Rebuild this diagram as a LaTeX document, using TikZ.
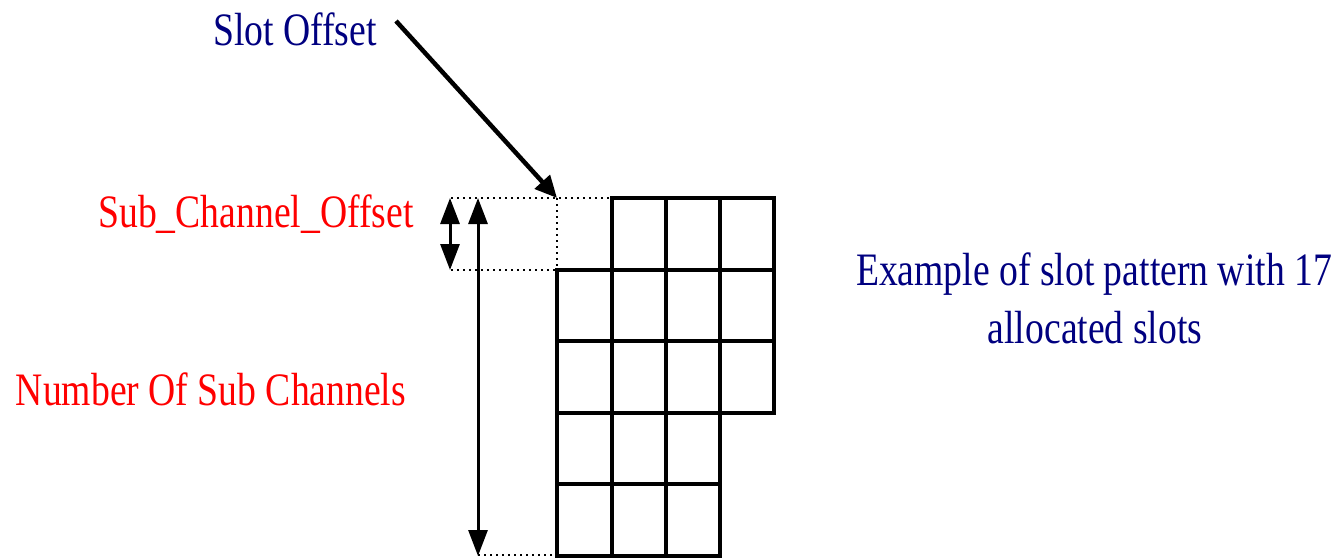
\documentclass[tikz,border=0pt]{standalone}
\usepackage{fontspec}
\setmainfont{Liberation Serif}[FakeStretch=0.81]
\usetikzlibrary{arrows.meta}
\definecolor{navy}{RGB}{0,0,128}
\begin{document}
\begin{tikzpicture}[x=1pt,y=-1pt,
  lbl/.style={anchor=base,inner sep=0pt,font=\fontsize{46.5}{50}\selectfont},
  gridline/.style={line width=3.3pt,line cap=rect},
  dotline/.style={line width=2.6pt,dash pattern=on 2.2pt off 3.8pt},
  dim/.style={line width=3pt,{Triangle[length=26pt,width=19pt]}-{Triangle[length=26pt,width=19pt]}},
  pointer/.style={line width=4.5pt,-{Triangle[length=22pt,width=20pt]}}]
\useasboundingbox (0,0) rectangle (1339,559);
% texts
\node[lbl,text=navy] (slotoff) at (295,46) {Slot Offset};
\node[lbl,text=red] (subch) at (256,227) {Sub\_Channel\_Offset};
\node[lbl,text=red] (numsub) at (211,405) {Number Of Sub Channels};
\node[lbl,text=navy] (ex1) at (1094,285) {Example of slot pattern with 17};
\node[lbl,text=navy] (ex2) at (1095,343) {allocated slots};
% coordinates
\coordinate (ps) at (396,21);
\coordinate (corner) at (557,198);
\coordinate (dtl) at (451,198);
\coordinate (dbl) at (451,270);
\coordinate (dbr) at (557,270);
\coordinate (dtr) at (612,198);
\coordinate (bl) at (478,555);
\coordinate (br) at (557,555);
\coordinate (sa1) at (450,198);
\coordinate (sa2) at (450,270);
\coordinate (la1) at (478,198);
\coordinate (la2) at (478,556);
% dotted
\draw[dotline] (dtl) -- (dtr);
\draw[dotline] (corner) -- (dbr);
\draw[dotline] (dbl) -- (dbr);
\draw[dotline] (bl) -- (br);
% grid
\draw[gridline] (612,198) -- (774,198);
\draw[gridline] (557,270) -- (774,270);
\draw[gridline] (557,341) -- (774,341);
\draw[gridline] (557,413) -- (774,413);
\draw[gridline] (557,484) -- (720,484);
\draw[gridline] (557,556) -- (720,556);
\draw[gridline] (557,270) -- (557,556);
\draw[gridline] (612,198) -- (612,556);
\draw[gridline] (666,198) -- (666,556);
\draw[gridline] (720,198) -- (720,556);
\draw[gridline] (774,198) -- (774,413);
% arrows
\draw[dim] (sa1) -- (sa2);
\draw[dim] (la1) -- (la2);
\draw[pointer] (ps) -- (corner);
\end{tikzpicture}
\end{document}
